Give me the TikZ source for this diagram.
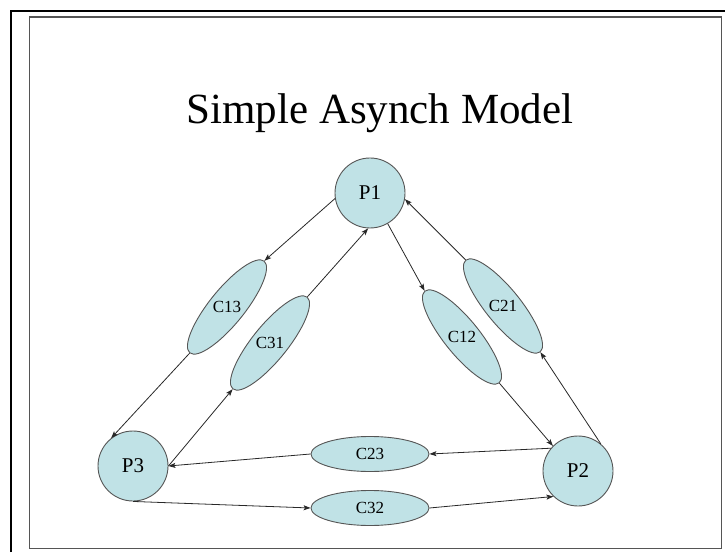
\documentclass[tikz,border=0pt]{standalone}
\usepackage{fontspec}
\setmainfont{Liberation Serif}
\usetikzlibrary{shapes.geometric,arrows.meta}
\definecolor{nodefill}{RGB}{192,226,230}
\definecolor{nodeedge}{RGB}{85,85,85}
\definecolor{linecol}{RGB}{40,40,40}
\tikzset{
  proc/.style={circle,draw=nodeedge,fill=nodefill,line width=0.9pt,minimum size=70pt,inner sep=0pt,font=\fontsize{21}{21}\selectfont},
  chan/.style={ellipse,draw=nodeedge,fill=nodefill,line width=0.9pt,minimum width=118pt,minimum height=35pt,inner sep=0pt,font=\fontsize{17}{17}\selectfont},
  chanlabel/.style={inner sep=0pt,font=\fontsize{17}{17}\selectfont},
  msg/.style={draw=linecol,line width=0.8pt,-{Stealth[length=7pt,width=5pt,inset=1.5pt]}},
}
\begin{document}
\begin{tikzpicture}[x=1pt,y=1pt]
\useasboundingbox (0,0) rectangle (725,552);
% frames
\draw[line width=2.2pt,black] (11,0) -- (11,541) -- (725,541);
\draw[line width=1.8pt,nodeedge] (29.5,3.5) rectangle (721.5,535);
% title
\node[anchor=base,inner sep=0pt,font=\fontsize{43}{43}\selectfont] (title) at (380,428) {Simple Asynch Model};
% processes
\node[proc] (P1) at (370,359) {P1};
\node[proc] (P3) at (133,86) {P3};
\node[proc] (P2) at (578,81) {P2};
% channels
\node[chan,rotate=51] (C13) at (227,245) {};
\node[chanlabel] (C13t) at (C13.center) {C13};
\node[chan,rotate=51] (C31) at (270,209) {};
\node[chanlabel] (C31t) at (C31.center) {C31};
\node[chan,rotate=-51] (C12) at (462,215) {};
\node[chanlabel] (C12t) at (C12.center) {C12};
\node[chan,rotate=-51] (C21) at (503,246) {};
\node[chanlabel] (C21t) at (C21.center) {C21};
\node[chan] (C23) at (370,98) {C23};
\node[chan] (C32) at (370,44) {C32};
% connectors
\draw[msg] (P1.189) -- (C13.east);
\draw[msg] (C13.west) -- (P3.128);
\draw[msg] (P3.east) -- (C31.west);
\draw[msg] (C31.east) -- (P1.267);
\draw[msg] (P1.300) -- (C12.west);
\draw[msg] (C12.east) -- (P2.135);
\draw[msg] (P2.50) -- (C21.east);
\draw[msg] (C21.west) -- (P1.350);
\draw[msg] (P2.140) -- (C23.east);
\draw[msg] (C23.west) -- (P3.east);
\draw[msg] (P3.south) -- (C32.west);
\draw[msg] (C32.east) -- (P2.226);
\end{tikzpicture}
\end{document}
